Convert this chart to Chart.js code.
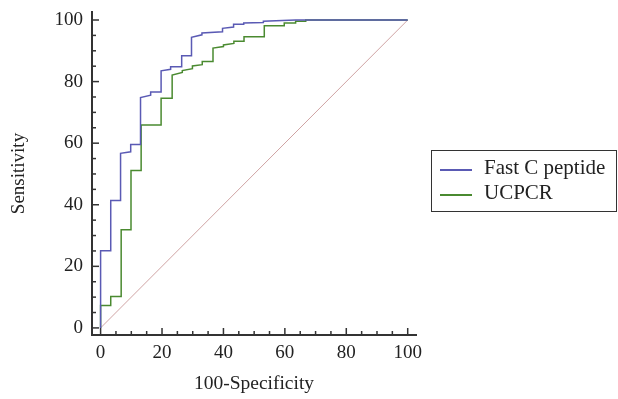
<!DOCTYPE html>
<html>
<head>
<meta charset="utf-8">
<script src="https://cdn.jsdelivr.net/npm/chart.js@4/dist/chart.umd.min.js"></script>
<style>
  html, body { margin: 0; padding: 0; background: #fff; }
  #wrap { position: relative; width: 618px; height: 399px; }
  #legend {
    position: absolute; left: 431px; top: 150px; width: 184px; height: 60px;
    border: 1.5px solid #333; font-family: "Liberation Serif", serif; font-size: 21px; color: #222;
  }
  .item { position: absolute; left: 8px; height: 24px; }
  .item span.swatch { position: absolute; left: 0; top: 0; width: 32px; height: 1.5px; }
  .item span.label { position: absolute; left: 44px; top: -14px; white-space: nowrap; line-height: 24px; }
</style>
</head>
<body>
<div id="wrap">
  <canvas id="roc" width="618" height="399"></canvas>
  <div id="legend"></div>
</div>
<script>
// ROC curves: [100-Specificity, Sensitivity]
const fastCPeptide = [
    [0, 0], [0, 25.1], [3.3, 25.1], [3.3, 41.4], [6.5, 41.4], [6.5, 56.7],
    [9.8, 57.2], [9.8, 59.6], [13, 59.6], [13, 74.8], [16.3, 75.6], [16.3, 76.6],
    [19.7, 76.6], [19.7, 83.5], [22.8, 84], [22.8, 84.8], [26.4, 84.8], [26.4, 88.4],
    [29.6, 88.4], [29.6, 94.4], [33, 95.2], [33, 95.8], [39.7, 96.2], [39.7, 97.3],
    [43.3, 97.7], [43.3, 98.6], [46.6, 98.6], [46.6, 99], [53, 99.2], [53, 99.6],
    [63.5, 100], [100, 100]
];
const ucpcr = [
    [0, 0], [0, 7.3], [3.3, 7.3], [3.3, 10.2], [6.7, 10.2], [6.7, 31.9],
    [9.9, 31.9], [9.9, 51.1], [13.2, 51.1], [13.2, 65.9], [19.7, 65.9], [19.7, 74.6],
    [23.3, 74.6], [23.3, 82.1], [26.6, 83], [26.6, 83.6], [29.9, 84.2], [29.9, 85.1],
    [33.1, 85.5], [33.1, 86.5], [36.6, 86.5], [36.6, 90.9], [40, 91.4], [40, 91.9],
    [43.4, 92.4], [43.4, 93.1], [46.7, 93.1], [46.7, 94.6], [53.3, 94.6], [53.3, 98.1],
    [59.8, 98.1], [59.8, 99], [63.5, 99], [63.5, 99.6], [66.8, 99.6], [66.8, 100],
    [100, 100]
];
const reference = [[0, 0], [100, 100]];

const seriesNames = ['Fast C peptide', 'UCPCR'];
const seriesColors = ['#5a5ab4', '#4a8a30'];
const xTicks = [0, 20, 40, 60, 80, 100];
const yTicks = [0, 20, 40, 60, 80, 100];
const minorStep = 5;

const toPoints = arr => arr.map(p => ({ x: p[0], y: p[1] }));
const serif = '"Liberation Serif", "Times New Roman", serif';

// small inward tick marks like the original plot
const inwardTicks = {
    id: 'inwardTicks',
    afterDraw(chart) {
        const ctx = chart.ctx;
        const xs = chart.scales.x, ys = chart.scales.y;
        const area = chart.chartArea;
        ctx.save();
        ctx.strokeStyle = '#333';
        ctx.lineWidth = 1.5;
        for (let v = 0; v <= 100; v += minorStep) {
            const len = xTicks.includes(v) ? 7 : 4;
            const px = xs.getPixelForValue(v);
            ctx.beginPath();
            ctx.moveTo(px, area.bottom);
            ctx.lineTo(px, area.bottom - len);
            ctx.stroke();
        }
        for (let v = 0; v <= 100; v += minorStep) {
            const len = yTicks.includes(v) ? 7 : 4;
            const py = ys.getPixelForValue(v);
            ctx.beginPath();
            ctx.moveTo(area.left, py);
            ctx.lineTo(area.left + len, py);
            ctx.stroke();
        }
        ctx.restore();
    }
};

const chart = new Chart(document.getElementById('roc'), {
    type: 'line',
    data: {
        datasets: [
            {
                label: seriesNames[0],
                data: toPoints(fastCPeptide),
                borderColor: seriesColors[0],
                borderWidth: 1.5,
                pointRadius: 0,
                tension: 0
            },
            {
                label: seriesNames[1],
                data: toPoints(ucpcr),
                borderColor: seriesColors[1],
                borderWidth: 1.5,
                pointRadius: 0,
                tension: 0
            },
            {
                label: 'reference',
                data: toPoints(reference),
                borderColor: '#cfa3a3',
                borderWidth: 1,
                pointRadius: 0
            }
        ]
    },
    options: {
        responsive: false,
        animation: false,
        layout: { padding: { left: 0, top: 12, right: 202, bottom: 0 } },
        plugins: {
            legend: { display: false },
            tooltip: { enabled: false }
        },
        scales: {
            x: {
                type: 'linear',
                min: -2.8,
                max: 102.7,
                grid: { display: false, drawTicks: false },
                border: { display: true, color: '#333', width: 2 },
                afterBuildTicks: s => { s.ticks = xTicks.map(v => ({ value: v })); },
                afterFit: s => { s.height = 64; s.paddingLeft = 0; s.paddingRight = 0; },
                ticks: {
                    color: '#222', padding: 7, maxRotation: 0,
                    font: { family: serif, size: 19 }
                },
                title: {
                    display: true, text: '100-Specificity', color: '#222',
                    font: { family: serif, size: 19.5 }, padding: { top: 0, bottom: 3 }
                }
            },
            y: {
                type: 'linear',
                min: -2.3,
                max: 102.6,
                grid: { display: false, drawTicks: false },
                border: { display: true, color: '#333', width: 2 },
                afterBuildTicks: s => { s.ticks = yTicks.map(v => ({ value: v })); },
                afterFit: s => { s.width = 92; s.paddingTop = 0; s.paddingBottom = 0; },
                ticks: {
                    color: '#222', padding: 9,
                    font: { family: serif, size: 19 }
                },
                title: {
                    display: true, text: 'Sensitivity', color: '#222',
                    font: { family: serif, size: 19 }, padding: { top: 8, bottom: 0 }
                }
            }
        }
    },
    plugins: [inwardTicks]
});

// legend box on the right
const legend = document.getElementById('legend');
seriesNames.forEach((name, i) => {
    const item = document.createElement('div');
    item.className = 'item';
    item.style.top = (18 + i * 25) + 'px';
    item.innerHTML = '<span class="swatch" style="background:' + seriesColors[i] + '"></span>' +
        '<span class="label">' + name + '</span>';
    legend.appendChild(item);
});
</script>
</body>
</html>
